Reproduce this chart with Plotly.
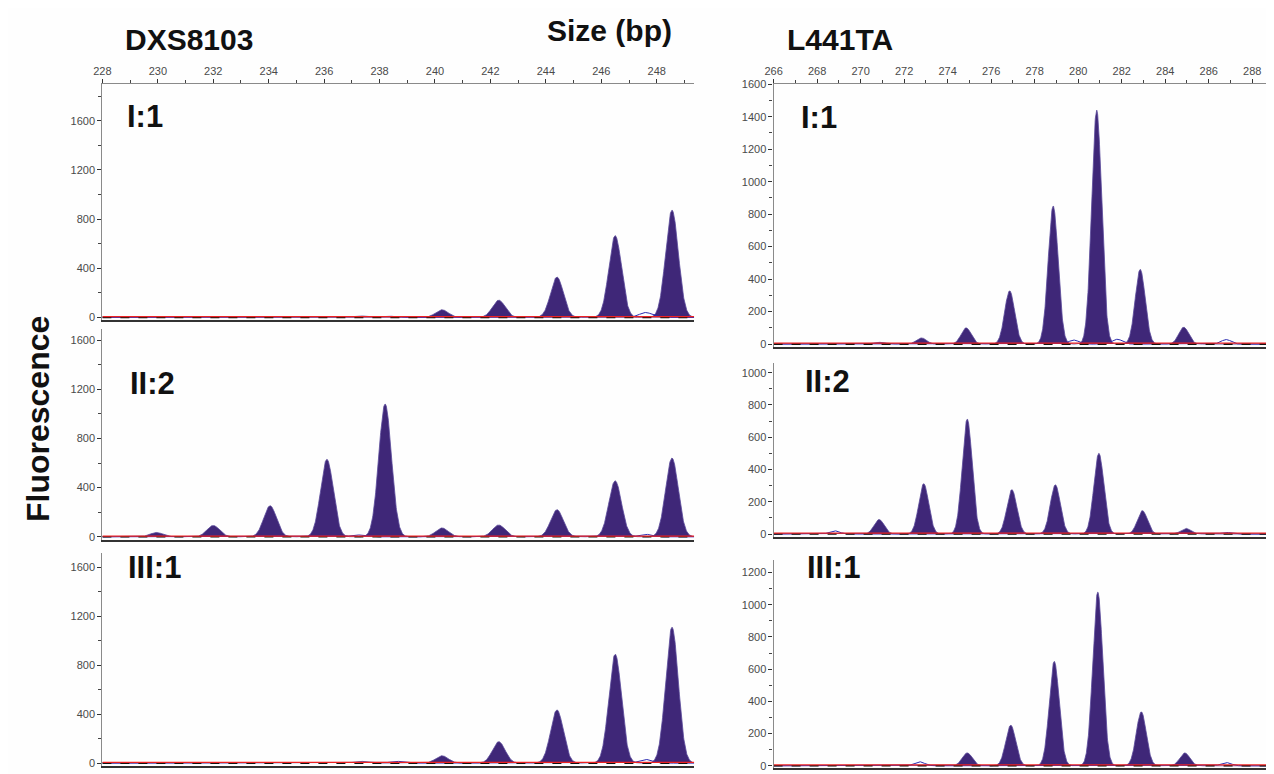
import numpy as np
import plotly.graph_objects as go

# page has an 8px body margin: size the figure so it fills the 1274x774 window
OFF = 8
W, H = 1274 - OFF, 774 - OFF

# ---------------- data ----------------
left_x_range = [228, 249.35]
right_x_range = [266, 289.0]

# DXS8103 panels: peak sizes (bp) and heights (RFU)
dxs_I1_pos = [237.3, 240.25, 242.3, 244.4, 246.5, 248.55]
dxs_I1_h = [12, 62, 140, 328, 665, 872]
dxs_I1_small_pos = [238.3, 247.6]
dxs_I1_small_h = [10, 40]

dxs_II2_pos = [229.95, 232.0, 234.05, 236.1, 238.2, 240.25, 242.3, 244.4, 246.5, 248.55]
dxs_II2_h = [35, 92, 252, 630, 1080, 72, 96, 220, 455, 640]
dxs_II2_small_pos = [237.2, 247.6]
dxs_II2_small_h = [15, 20]

dxs_III1_pos = [237.3, 240.25, 242.3, 244.4, 246.5, 248.55]
dxs_III1_h = [15, 60, 175, 435, 890, 1110]
dxs_III1_small_pos = [238.6, 247.6]
dxs_III1_small_h = [15, 30]

# L441TA panels
l44_I1_pos = [270.8, 272.8, 274.85, 276.85, 278.85, 280.85, 282.85, 284.85]
l44_I1_h = [12, 38, 100, 328, 850, 1440, 460, 104]
l44_I1_small_pos = [279.8, 281.8, 286.8]
l44_I1_small_h = [25, 30, 28]

l44_II2_pos = [270.85, 272.9, 274.9, 276.95, 278.95, 280.95, 282.95, 284.95]
l44_II2_h = [90, 312, 712, 275, 305, 500, 145, 35]
l44_II2_small_pos = [268.8, 286.8]
l44_II2_small_h = [20, 10]

l44_III1_pos = [274.9, 276.9, 278.9, 280.9, 282.9, 284.9]
l44_III1_h = [80, 252, 648, 1078, 335, 80]
l44_III1_small_pos = [272.7, 286.8]
l44_III1_small_h = [25, 20]

peak_sigma = 0.23
baseline_level = 0

panels = [
    dict(xr=left_x_range, yr=[-24, 1897], dt=400, mdt=200, pos=dxs_I1_pos, h=dxs_I1_h,
         spos=dxs_I1_small_pos, sh=dxs_I1_small_h, label="I:1", top=True,
         px=(94, 690), py=(79, 318)),
    dict(xr=left_x_range, yr=[-24, 1688], dt=400, mdt=200, pos=dxs_II2_pos, h=dxs_II2_h,
         spos=dxs_II2_small_pos, sh=dxs_II2_small_h, label="II:2", top=False,
         px=(94, 690), py=(327, 540)),
    dict(xr=left_x_range, yr=[-24, 1720], dt=400, mdt=200, pos=dxs_III1_pos, h=dxs_III1_h,
         spos=dxs_III1_small_pos, sh=dxs_III1_small_h, label="III:1", top=False,
         px=(94, 690), py=(553, 769)),
    dict(xr=right_x_range, yr=[-18, 1600], dt=200, mdt=100, pos=l44_I1_pos, h=l44_I1_h,
         spos=l44_I1_small_pos, sh=l44_I1_small_h, label="I:1", top=True,
         px=(770, 1274), py=(79, 345)),
    dict(xr=right_x_range, yr=[-17, 1061], dt=200, mdt=100, pos=l44_II2_pos, h=l44_II2_h,
         spos=l44_II2_small_pos, sh=l44_II2_small_h, label="II:2", top=False,
         px=(770, 1274), py=(361, 537)),
    dict(xr=right_x_range, yr=[-14, 1281], dt=200, mdt=100, pos=l44_III1_pos, h=l44_III1_h,
         spos=l44_III1_small_pos, sh=l44_III1_small_h, label="III:1", top=False,
         px=(770, 1274), py=(560, 771)),
]

label_pos = [(117, 112), (120, 382), (118, 568), (796, 113), (800, 380), (802, 568)]

FILL = "#3f2778"
EDGE = "#5b4a9a"
TICKFONT = dict(family="Liberation Sans, Arial", size=11, color="#4a4a4a")


def fx(p):
    return (p - OFF) / W


def fy(p):
    return 1 - (p - OFF) / H


def curve(xr, pos, h):
    xs = np.arange(xr[0], xr[1] + 0.005, 0.01)
    ys = np.zeros_like(xs)
    for c, a in zip(pos, h):
        ys += a * np.exp(-0.5 * ((xs - c) / peak_sigma) ** 2)
    return xs, ys


fig = go.Figure()
layout = {}
n = len(panels)
for i, p in enumerate(panels):
    k = i + 1
    xa = "x" if k == 1 else f"x{k}"
    ya = "y" if k == 1 else f"y{k}"
    xdom = [max(0, fx(p["px"][0])), min(1, fx(p["px"][1]))]
    ydom = [max(0, fy(p["py"][1])), min(1, fy(p["py"][0]))]
    layout[f"xaxis{k}"] = dict(domain=xdom, range=p["xr"], anchor=ya, showgrid=False,
                               zeroline=False, showline=True, linecolor="#333333",
                               linewidth=1.5, ticks="", showticklabels=False)
    layout[f"yaxis{k}"] = dict(domain=ydom, range=p["yr"], anchor=xa, showgrid=False,
                               zeroline=False, showline=True, linecolor="#8a8a8a",
                               linewidth=1.2, ticks="outside", ticklen=4, tickwidth=1,
                               tickcolor="#333333", tick0=0, dtick=p["dt"],
                               tickfont=TICKFONT,
                               minor=dict(dtick=p["mdt"], tick0=0, ticks="outside",
                                          ticklen=3, tickcolor="#444444"))
    base_x = xa
    if p["top"]:
        kk = n + k
        layout[f"xaxis{kk}"] = dict(domain=xdom, range=p["xr"], anchor=ya, overlaying=xa,
                                    side="top", showgrid=False, zeroline=False,
                                    showline=True, linecolor="#8a8a8a", linewidth=1.2,
                                    ticks="outside", ticklen=4, tickcolor="#333333",
                                    tick0=p["xr"][0], dtick=2, tickfont=TICKFONT,
                                    minor=dict(dtick=1, ticks="outside", ticklen=3,
                                               tickcolor="#444444"))
        base_x = f"x{kk}"

    xs, ys = curve(p["xr"], p["pos"], p["h"])
    fig.add_trace(go.Scatter(x=xs, y=ys, xaxis=xa, yaxis=ya, mode="lines",
                             line=dict(color=EDGE, width=0.8), fill="tozeroy",
                             fillcolor=FILL, hoverinfo="skip", showlegend=False))
    sx, sy = curve(p["xr"], p["spos"], p["sh"])
    fig.add_trace(go.Scatter(x=sx, y=sy, xaxis=xa, yaxis=ya, mode="lines",
                             line=dict(color="#2a2ab0", width=1), hoverinfo="skip",
                             showlegend=False))
    fig.add_trace(go.Scatter(x=p["xr"], y=[baseline_level] * 2, xaxis=xa, yaxis=ya,
                             mode="lines", line=dict(color="#111111", width=1.6, dash="dash"),
                             hoverinfo="skip", showlegend=False))
    fig.add_trace(go.Scatter(x=p["xr"], y=[baseline_level + 6] * 2, xaxis=base_x, yaxis=ya,
                             mode="lines", line=dict(color="#ee2222", width=1.2),
                             hoverinfo="skip", showlegend=False))

annotations = []
LBL = dict(family="Liberation Sans Narrow, Arial Narrow, Liberation Sans", size=31, color="#111111")
for (lx, ly), p in zip(label_pos, panels):
    annotations.append(dict(text=f"<b>{p['label']}</b>", x=fx(lx), y=fy(ly), xref="paper",
                            yref="paper", xanchor="left", yanchor="middle", showarrow=False,
                            font=LBL))
TTL = dict(family="Liberation Sans, Arial", size=30, color="#111111")
annotations += [
    dict(text="<b>DXS8103</b>", x=fx(115), y=fy(34), xref="paper", yref="paper",
         xanchor="left", yanchor="middle", showarrow=False, font=TTL),
    dict(text="<b>Size (bp)</b>", x=fx(540), y=fy(25), xref="paper", yref="paper",
         xanchor="left", yanchor="middle", showarrow=False, font=TTL),
    dict(text="<b>L441TA</b>", x=fx(782), y=fy(34), xref="paper", yref="paper",
         xanchor="left", yanchor="middle", showarrow=False, font=TTL),
    dict(text="<b>Fluorescence</b>", x=fx(29), y=fy(418), xref="paper", yref="paper",
         xanchor="center", yanchor="middle", showarrow=False, textangle=-90,
         font=dict(family="Liberation Sans, Arial", size=32, color="#111111")),
]

fig.update_layout(width=W, height=H, margin=dict(l=0, r=0, t=0, b=0),
                  paper_bgcolor="#fefefe", plot_bgcolor="#fefefe",
                  showlegend=False, annotations=annotations, **layout)

fig.write_html("out.html")
